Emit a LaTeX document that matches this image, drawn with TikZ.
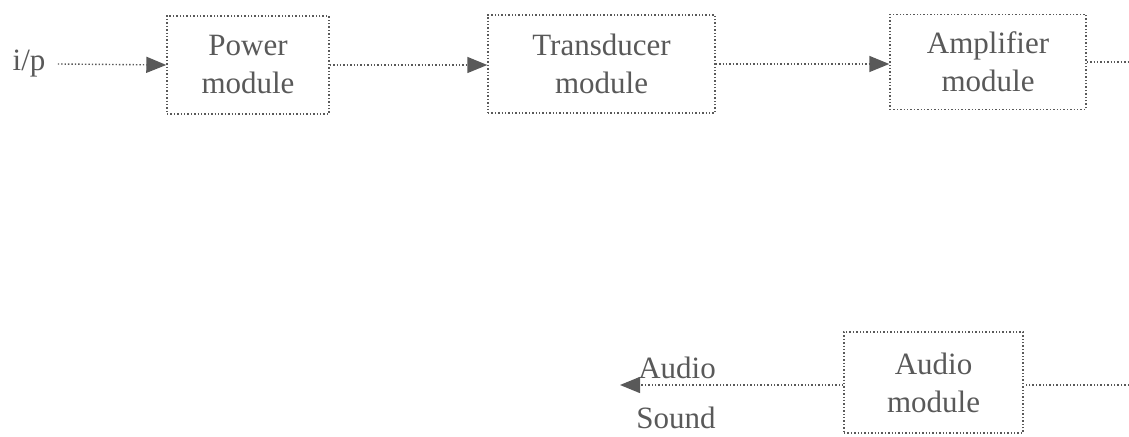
\documentclass[tikz,border=0pt]{standalone}
\usepackage{fontspec}
\setmainfont{Liberation Serif}
\usetikzlibrary{arrows.meta}

\begin{document}
\begin{tikzpicture}[
x=0.5pt, y=-0.5pt,
ink/.style={color=black!65},
module/.style={
    ink, draw, densely dotted, line width=0.7pt,
    align=center, inner sep=0pt,
    font=\fontsize{15.5}{19}\selectfont
},
label/.style={ink, inner sep=0pt, font=\fontsize{15.5}{19}\selectfont},
link/.style={ink, densely dotted, line width=0.7pt},
flow/.style={link, -{Triangle[length=10pt, width=8pt]}}
]
\useasboundingbox (0,0) rectangle (1129,437);

\node[label] (ip) at (29,64) {i/p};
\node[module, minimum width=81pt, minimum height=49pt] (power) at (248,65) {Power\\module};
\node[module, minimum width=113.5pt, minimum height=49pt] (trans) at (601.5,64) {Transducer\\module};
\node[module, minimum width=98pt, minimum height=47.5pt] (amp) at (988,62) {Amplifier\\module};
\node[module, minimum width=89.5pt, minimum height=50.5pt] (audio) at (933.5,382.5) {Audio\\module};
\node[label] (audiotxt) at (677,368) {Audio};
\node[label] (soundtxt) at (676,418) {Sound};

\coordinate (ampout) at (1129,62);
\coordinate (audioin) at (1129,385);
\coordinate (sndend) at (620,385);

\draw[flow] ([xshift=6pt]ip.east) -- (power.west);
\draw[flow] (power.east) -- (trans.west |- power.east);
\draw[flow] (trans.east) -- (amp.west |- trans.east);
\draw[link] (amp.east) -- (ampout);
\draw[link] (audioin) -- (audio.east |- audioin);
\draw[flow] (audio.west |- sndend) -- (sndend);
\end{tikzpicture}
\end{document}
